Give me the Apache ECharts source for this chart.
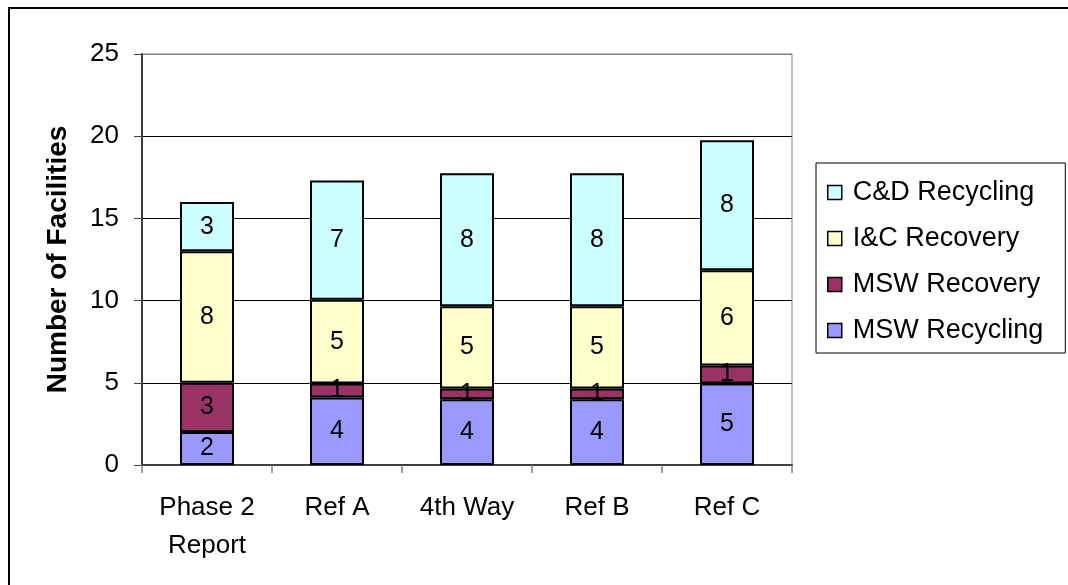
<!DOCTYPE html>
<html>
<head>
<meta charset="utf-8">
<script src="https://cdn.jsdelivr.net/npm/echarts@6/dist/echarts.min.js"></script>
<style>
  html, body { margin: 0; padding: 0; background: #fff; }
  #chart { width: 1068px; height: 585px; }
</style>
</head>
<body>
<div id="chart"></div>
<script>
// categories and series values
const categories = ['Phase 2\nReport', 'Ref A', '4th Way', 'Ref B', 'Ref C'];
const mswRecycling = [2, 4.1, 4.0, 4.0, 4.95];
const mswRecovery = [3, 0.85, 0.65, 0.65, 1.1];
const icRecovery = [8, 5.1, 5.0, 5.0, 5.8];
const cdRecycling = [3, 7.25, 8.1, 8.1, 7.9];
const legendOrder = ['C&D Recycling', 'I&C Recovery', 'MSW Recovery', 'MSW Recycling'];

const font = '"Liberation Sans", Arial, sans-serif';

const makeSeries = (name, data, color) => ({
    name: name,
    type: 'bar',
    stack: 'total',
    barWidth: 54,
    data: data,
    itemStyle: { color: color, borderColor: '#000', borderWidth: 2 },
    label: {
        show: true,
        position: 'inside',
        color: '#000',
        fontFamily: font,
        fontSize: 25,
        formatter: (p) => Math.round(p.value)
    }
});

const chart = echarts.init(document.getElementById('chart'));

chart.setOption({
    animation: false,
    backgroundColor: '#fff',
    graphic: [{
        type: 'rect',
        shape: { x: 9, y: 8, width: 1200, height: 700 },
        style: { fill: 'none', stroke: '#000', lineWidth: 2 },
        silent: true
    }],
    grid: {
        left: 142, right: 276, top: 54, bottom: 120,
        show: true, borderColor: '#808080', borderWidth: 1
    },
    legend: {
        orient: 'vertical',
        left: 816,
        top: 163,
        data: legendOrder,
        icon: 'rect',
        itemWidth: 14,
        itemHeight: 14,
        itemGap: 19,
        padding: [16, 22, 9, 11],
        borderColor: '#000',
        borderWidth: 1,
        itemStyle: { borderColor: '#000', borderWidth: 1.5 },
        textStyle: { fontFamily: font, fontSize: 27, color: '#000', lineHeight: 27, padding: [0, 0, 0, 6] }
    },
    xAxis: {
        type: 'category',
        data: categories,
        axisLine: { lineStyle: { color: '#404040', width: 2 } },
        axisTick: { show: true, length: 8, lineStyle: { color: '#808080', width: 1.5 } },
        axisLabel: { color: '#000', fontFamily: font, fontSize: 26, margin: 24, lineHeight: 38 }
    },
    yAxis: {
        type: 'value',
        min: 0,
        max: 25,
        interval: 5,
        name: 'Number of Facilities',
        nameLocation: 'middle',
        nameGap: 70,
        nameTextStyle: { fontFamily: font, fontSize: 28, fontWeight: 'bold', color: '#000' },
        axisLine: { show: true, lineStyle: { color: '#404040', width: 2 } },
        axisTick: { show: true, length: 8, lineStyle: { color: '#404040', width: 1 } },
        axisLabel: { color: '#000', fontFamily: font, fontSize: 26, margin: 23 },
        splitLine: {
            lineStyle: { color: ['#000', '#000', '#000', '#000', '#000', '#808080'], width: 1 }
        }
    },
    series: [
        makeSeries('MSW Recycling', mswRecycling, '#9999FF'),
        makeSeries('MSW Recovery', mswRecovery, '#993366'),
        makeSeries('I&C Recovery', icRecovery, '#FFFFCC'),
        makeSeries('C&D Recycling', cdRecycling, '#CCFFFF')
    ]
});
</script>
</body>
</html>
